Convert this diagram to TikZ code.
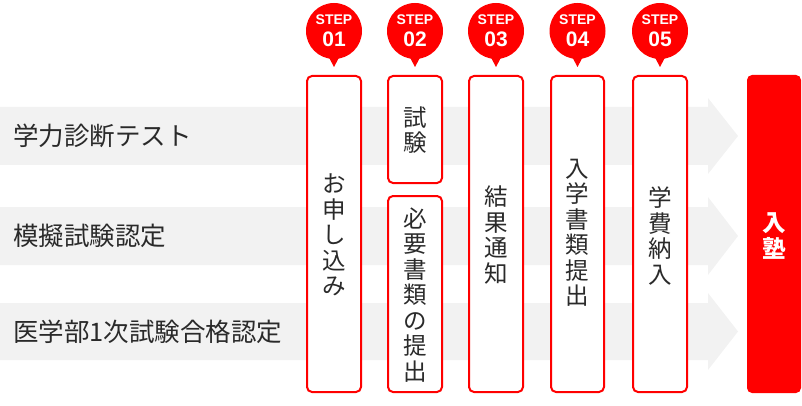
\documentclass[tikz,border=0pt]{standalone}
\usepackage{fontspec}
\newfontfamily\jp{Noto Sans CJK JP}
\newfontfamily\lat{Liberation Sans}
\definecolor{stepred}{HTML}{FF0000}
\definecolor{band}{HTML}{F2F2F2}
\definecolor{ink}{HTML}{2A2A2A}
\begin{document}
\begin{tikzpicture}[x=1pt,y=-1pt,
  bandshape/.style={fill=band,draw=none},
  label/.style={anchor=west,inner sep=0pt,text=ink,font=\jp\fontsize{25.5}{28}\selectfont},
  stepbox/.style={draw=stepred,line width=2pt,rounded corners=5pt,fill=white},
  vtext/.style={align=center,inner sep=0pt,text=ink,font=\jp\fontsize{23.5}{25.5}\selectfont},
  bubble/.style={circle,fill=stepred,minimum size=56pt,inner sep=0pt},
  steplbl/.style={text=white,inner sep=0pt,font=\lat\bfseries\fontsize{14}{14}\selectfont},
  stepnum/.style={text=white,inner sep=0pt,font=\lat\bfseries\fontsize{21}{21}\selectfont}]
\useasboundingbox (0,0) rectangle (802,406);
% bands with arrow heads
\fill[band] (0,107) -- (708,107) -- (708,98) -- (738,136) -- (708,174) -- (708,165) -- (0,165) -- cycle;
\fill[band] (0,207) -- (708,207) -- (708,197) -- (738,236) -- (708,275) -- (708,265) -- (0,265) -- cycle;
\fill[band] (0,303) -- (708,303) -- (708,293) -- (738,331.5) -- (708,370) -- (708,360) -- (0,360) -- cycle;
% left labels
\node[label] (l1) at (13,136) {学力診断テスト};
\node[label] (l2) at (13,236) {模擬試験認定};
\node[label] (l3) at (13,331.5) {医学部1次試験合格認定};
% step boxes
\draw[stepbox] (307,76) rectangle (361,392);
\draw[stepbox] (388,76) rectangle (442,183);
\draw[stepbox] (388,196) rectangle (442,392);
\draw[stepbox] (469,76) rectangle (523,392);
\draw[stepbox] (551,76) rectangle (604,392);
\draw[stepbox] (633,76) rectangle (687,392);
\fill[stepred,rounded corners=5pt] (747,75) rectangle (801,393);
% box texts
\node[vtext] (t1) at (334,235) {お\\申\\し\\込\\み};
\node[vtext] (t2a) at (415,130) {試\\験};
\node[vtext] (t2b) at (415,295) {必\\要\\書\\類\\の\\提\\出};
\node[vtext] (t3) at (496,235) {結\\果\\通\\知};
\node[vtext] (t4) at (577.5,233) {入\\学\\書\\類\\提\\出};
\node[vtext] (t5) at (660,236) {学\\費\\納\\入};
\node[vtext,text=white,font=\jp\bfseries\fontsize{23.5}{25.5}\selectfont] (t6) at (774,236) {入\\塾};
% step bubbles
\foreach \cx/\n in {334/01,415/02,496/03,577.5/04,660/05}{
  \fill[stepred] (\cx-9,50) -- (\cx+9,50) -- (\cx,67) -- cycle;
  \node[bubble] (b\n) at (\cx,31) {};
  \node[steplbl,anchor=base] (s\n) at (\cx,25) {STEP};
  \node[stepnum,anchor=base] (n\n) at (\cx,46.5) {\n};
}
\end{tikzpicture}
\end{document}
